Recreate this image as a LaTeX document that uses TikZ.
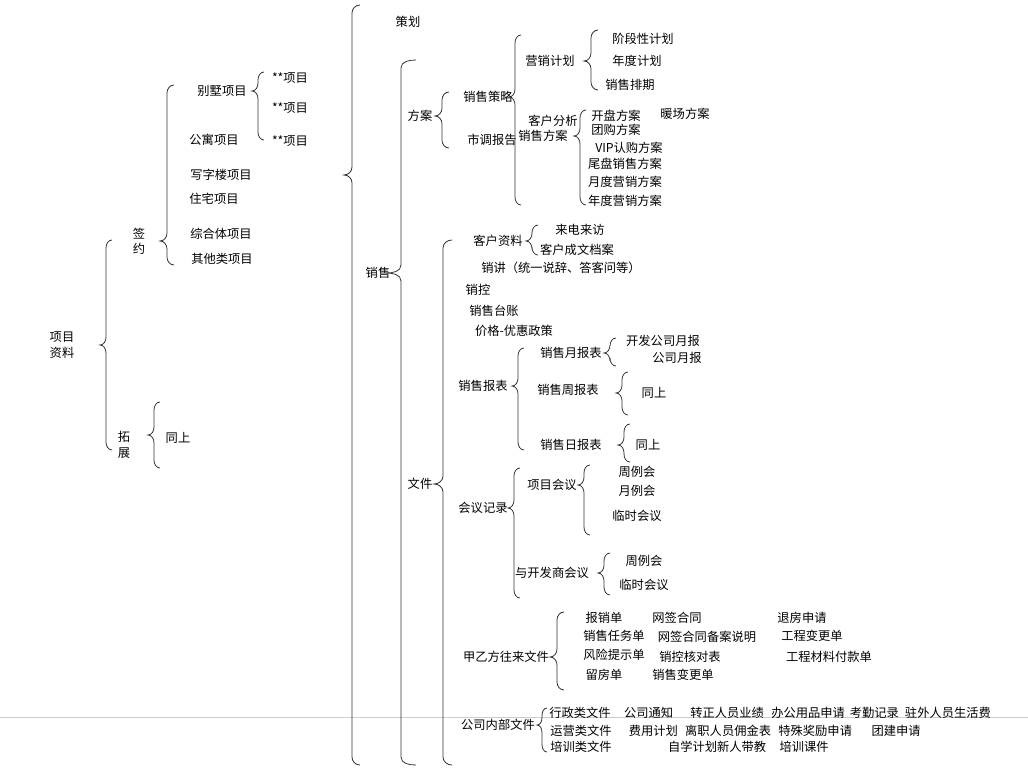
\documentclass[tikz,border=0pt]{standalone}
\usepackage{fontspec}
\setmainfont{Noto Sans CJK SC}
\newcommand\mybrc[5]{% x, top, tip, bottom, width
 \draw[brc] ({#1+#5},#2) to[out=180,in=90] ({#1+#5/2},{#2+8}) -- ({#1+#5/2},{#3-8}) to[out=-90,in=0] (#1,#3) to[out=0,in=90] ({#1+#5/2},{#3+8}) -- ({#1+#5/2},{#4-8}) to[out=-90,in=180] ({#1+#5},#4);}
\begin{document}
\begin{tikzpicture}[x=0.75pt,y=-0.75pt,
  brc/.style={line width=0.6pt,black!80},
  t/.style={inner sep=0pt,font=\fontsize{9.2}{11.5}\selectfont,align=center}]
\useasboundingbox[fill=white] (0,0) rectangle (1028,768);
\draw[gray!40,line width=0.5pt] (0,717) -- (1028,717);
% level 0
\node[t] (root) at (62,345) {项目\\资料};
\mybrc{100}{240}{345}{450}{12}
\node[t] (qy) at (139,241) {签\\约};
\mybrc{160}{85}{241}{265}{14}
\node[t] (bs) at (222,91) {别墅项目};
\node[t] (gy) at (214,140) {公寓项目};
\node[t] (xzl) at (221,175) {写字楼项目};
\node[t] (zz) at (214,199) {住宅项目};
\node[t] (zht) at (221,234) {综合体项目};
\node[t] (qt) at (222,259) {其他类项目};
\mybrc{252}{72}{91}{140}{12}
\node[t] (x1) at (290,78) {**项目};
\node[t] (x2) at (290,108) {**项目};
\node[t] (x3) at (290,141) {**项目};
\node[t] (tz) at (124,445) {拓\\展};
\mybrc{148}{402}{435}{468}{12}
\node[t] (ts) at (178,438) {同上};
% big brace
\mybrc{344}{5}{175}{765}{16}
\node[t] (ch) at (408,22) {策划};
\node[t] (xs) at (378,273) {销售};
\mybrc{386}{60}{273}{765}{30}
\node[t] (fa) at (420,116) {方案};
\mybrc{435}{92}{116}{148}{14}
\node[t] (xscl) at (488,97) {销售策略};
\node[t] (dcbg) at (492,140) {市调报告};
\mybrc{509}{35}{97}{205}{12}
\node[t] (yxjh) at (550,61) {营销计划};
\mybrc{584}{30}{61}{90}{14}
\node[t] (a1) at (643,39) {阶段性计划};
\node[t] (a2) at (637,61) {年度计划};
\node[t] (a3) at (630,85) {销售排期};
\node[t] (khfx) at (553,121) {客户分析};
\node[t] (xsfa) at (543,136) {销售方案};
\mybrc{574}{110}{136}{205}{12}
\node[t] (b1) at (616,116) {开盘方案};
\node[t] (b2) at (685,114) {暖场方案};
\node[t] (b3) at (616,130) {团购方案};
\node[t] (b4) at (629,148) {VIP认购方案};
\node[t] (b5) at (625,164) {尾盘销售方案};
\node[t] (b6) at (625,182) {月度营销方案};
\node[t] (b7) at (625,201) {年度营销方案};
% 文件
\node[t] (wj) at (420,484) {文件};
\mybrc{434}{240}{484}{765}{18}
\node[t] (khzl) at (498,241) {客户资料};
\mybrc{526}{225}{241}{255}{12}
\node[t] (c1) at (580,230) {来电来访};
\node[t] (c2) at (577,250) {客户成文档案};
\node[t] (xj) at (561,268) {销讲（统一说辞、答客问等）};
\node[t] (xk) at (478,290) {销控};
\node[t] (xstz) at (494,311) {销售台账};
\node[t] (jg) at (514,331) {价格-优惠政策};
\node[t] (xsbb) at (483,386) {销售报表};
\mybrc{512}{348}{386}{450}{12}
\node[t] (ybb) at (571,353) {销售月报表};
\mybrc{604}{338}{353}{366}{12}
\node[t] (d1) at (663,341) {开发公司月报};
\node[t] (d2) at (677,358) {公司月报};
\node[t] (zbb) at (568,390) {销售周报表};
\mybrc{616}{372}{393}{415}{12}
\node[t] (d3) at (654,393) {同上};
\node[t] (rbb) at (571,445) {销售日报表};
\mybrc{618}{424}{445}{462}{12}
\node[t] (d4) at (648,445) {同上};
\node[t] (hyjl) at (483,508) {会议记录};
\mybrc{508}{468}{508}{598}{12}
\node[t] (xmhy) at (552,485) {项目会议};
\mybrc{578}{465}{485}{535}{12}
\node[t] (e1) at (637,472) {周例会};
\node[t] (e2) at (637,491) {月例会};
\node[t] (e3) at (637,516) {临时会议};
\node[t] (kfs) at (552,573) {与开发商会议};
\mybrc{598}{553}{573}{595}{12}
\node[t] (e4) at (644,561) {周例会};
\node[t] (e5) at (644,585) {临时会议};
\node[t] (jyf) at (506,657) {甲乙方往来文件};
\mybrc{550}{612}{657}{690}{14}
\node[t] (f1) at (604,618) {报销单};
\node[t] (f2) at (677,618) {网签合同};
\node[t] (f3) at (802,618) {退房申请};
\node[t] (f4) at (614,636) {销售任务单};
\node[t] (f5) at (707,637) {网签合同备案说明};
\node[t] (f6) at (812,636) {工程变更单};
\node[t] (f7) at (614,655) {风险提示单};
\node[t] (f8) at (690,657) {销控核对表};
\node[t] (f9) at (829,657) {工程材料付款单};
\node[t] (f10) at (604,675) {留房单};
\node[t] (f11) at (683,675) {销售变更单};
\node[t] (gsnb) at (498,725) {公司内部文件};
\mybrc{537}{708}{725}{752}{10}
\node[t,anchor=west] (g1) at (549,713) {行政类文件\hspace{1.1em}公司通知\hspace{1.4em}转正人员业绩\hspace{0.6em}办公用品申请\hspace{0.4em}考勤记录\hspace{0.5em}驻外人员生活费};
\node[t,anchor=west] (g2) at (550,731) {运营类文件\hspace{1.4em}费用计划\hspace{0.6em}离职人员佣金表\hspace{0.6em}特殊奖励申请\hspace{1.6em}团建申请};
\node[t,anchor=west] (g3) at (550,747) {培训类文件\hspace{4.6em}自学计划新人带教\hspace{1.1em}培训课件};
\end{tikzpicture}
\end{document}
